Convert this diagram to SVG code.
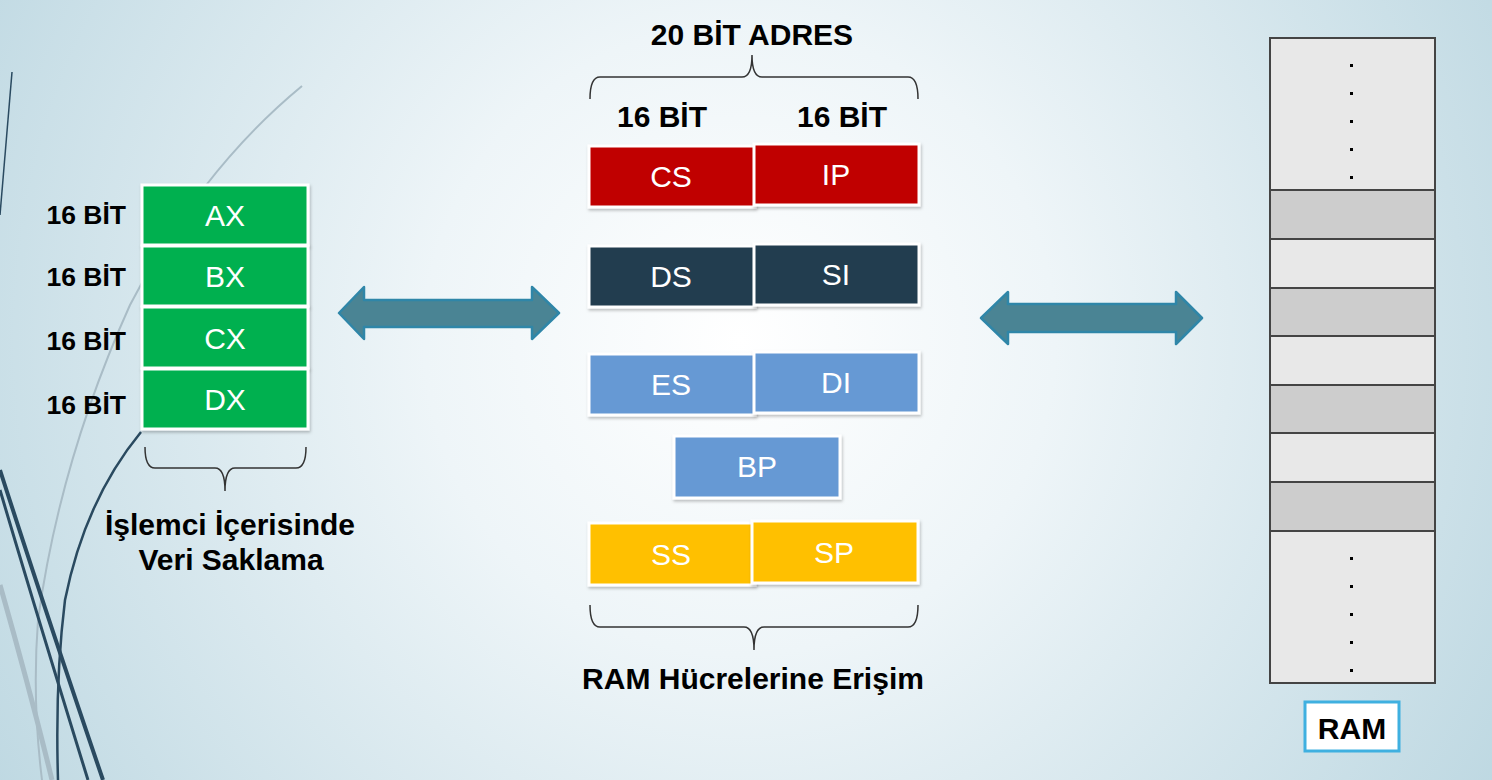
<svg xmlns="http://www.w3.org/2000/svg" width="1492" height="780" viewBox="0 0 1492 780">
<defs>
<radialGradient id="bg" cx="740" cy="340" r="900" gradientUnits="userSpaceOnUse">
<stop offset="0" stop-color="#ffffff"/>
<stop offset="0.35" stop-color="#eef5f8"/>
<stop offset="1" stop-color="#bcd7e1"/>
</radialGradient>
<filter id="sh" x="-10%" y="-10%" width="130%" height="140%">
<feDropShadow dx="1" dy="2" stdDeviation="1.5" flood-color="#000" flood-opacity="0.25"/>
</filter>
<style>
.reg rect{stroke:#fff;stroke-width:3;filter:url(#sh)}
.rt{font-family:"Liberation Sans",Arial,sans-serif;font-size:30px;fill:#fff;text-anchor:middle}
.lb{font-family:"Liberation Sans",Arial,sans-serif;font-weight:bold;fill:#000}
.brace{fill:none;stroke:#333;stroke-width:1.5}
.arrow{fill:#4a8494;stroke:#2f86a8;stroke-width:2.5;stroke-linejoin:round}
.ram rect{stroke:#444;stroke-width:2}
.dot{fill:#000}
</style>
</defs>
<rect x="0" y="0" width="1492" height="780" fill="url(#bg)"/>
<g id="decor" fill="none">
<path d="M12,72 Q6,140 0,215" stroke="#2a4a60" stroke-width="1.5"/>
<path d="M302,86 Q200,170 130,305 Q60,460 38,620 Q32,700 42,780" stroke="#a9bcc6" stroke-width="2"/>
<path d="M0,585 Q30,690 52,780" stroke="#a9bcc6" stroke-width="5"/>
<path d="M0,470 Q45,610 103,780" stroke="#2a4a60" stroke-width="4"/>
<path d="M0,490 Q40,625 88,780" stroke="#2a4a60" stroke-width="3"/>
<path d="M141,432 Q85,500 65,600 Q55,680 58,780" stroke="#2a4a60" stroke-width="2.5"/>
</g>
<g id="green-registers" class="reg">
<g id="AX"><rect x="142" y="185" width="166" height="60" fill="#00b050"/><text class="rt" x="225" y="226">AX</text></g>
<g id="BX"><rect x="142" y="246" width="166" height="60" fill="#00b050"/><text class="rt" x="225" y="287">BX</text></g>
<g id="CX"><rect x="142" y="307" width="166" height="61" fill="#00b050"/><text class="rt" x="225" y="349">CX</text></g>
<g id="DX"><rect x="142" y="369" width="166" height="60" fill="#00b050"/><text class="rt" x="225" y="410">DX</text></g>
</g>
<g id="green-labels" class="lb" font-size="26.5" text-anchor="end">
<text x="126" y="224">16 BİT</text>
<text x="126" y="286">16 BİT</text>
<text x="126" y="350">16 BİT</text>
<text x="126" y="414">16 BİT</text>
</g>
<g id="brace-left"><path class="brace" d="M145,447 Q145,468 155,468 L215,468 Q225,468 225,491 Q225,468 235,468 L296,468 Q306,468 306,447"/></g>
<g id="label-left" class="lb" font-size="30" text-anchor="middle">
<text x="230" y="535">İşlemci İçerisinde</text>
<text x="231" y="570">Veri Saklama</text>
</g>
<g id="title" class="lb" font-size="30" text-anchor="middle"><text x="752" y="45">20 BİT ADRES</text></g>
<g id="brace-top"><path class="brace" d="M590,99 Q590,77 600,77 L742,77 Q752,77 752,55 Q752,77 762,77 L908,77 Q918,77 918,99"/></g>
<g id="bit-labels" class="lb" font-size="30" text-anchor="middle">
<text x="662" y="127">16 BİT</text>
<text x="842" y="127">16 BİT</text>
</g>
<g id="segment-registers" class="reg">
<g id="CS"><rect x="589" y="146" width="166" height="61" fill="#c00000"/><text class="rt" x="671" y="187">CS</text></g>
<g id="IP"><rect x="754" y="144" width="165" height="61" fill="#c00000"/><text class="rt" x="836" y="185">IP</text></g>
<g id="DS"><rect x="589" y="246" width="166" height="61" fill="#233d4f"/><text class="rt" x="671" y="287">DS</text></g>
<g id="SI"><rect x="754" y="244" width="165" height="61" fill="#233d4f"/><text class="rt" x="836" y="285">SI</text></g>
<g id="ES"><rect x="589" y="354" width="166" height="61" fill="#6699d4"/><text class="rt" x="671" y="395">ES</text></g>
<g id="DI"><rect x="754" y="352" width="165" height="61" fill="#6699d4"/><text class="rt" x="836" y="393">DI</text></g>
<g id="BP"><rect x="674" y="436" width="166" height="62" fill="#6699d4"/><text class="rt" x="757" y="477">BP</text></g>
<g id="SS"><rect x="589" y="523" width="166" height="62" fill="#ffc000"/><text class="rt" x="671" y="565">SS</text></g>
<g id="SP"><rect x="752" y="521" width="166" height="62" fill="#ffc000"/><text class="rt" x="834" y="563">SP</text></g>
</g>
<g id="brace-bottom"><path class="brace" d="M590,605 Q590,627 600,627 L744,627 Q754,627 754,650 Q754,627 764,627 L908,627 Q918,627 918,605"/></g>
<g id="label-bottom" class="lb" font-size="30" text-anchor="middle"><text x="753" y="689">RAM Hücrelerine Erişim</text></g>
<g id="connectors">
<path class="arrow" d="M339,313 L364,287 L364,300 L532,300 L532,287 L559,313 L532,339 L532,327 L364,327 L364,339 Z"/>
<path class="arrow" d="M981,318 L1008,292 L1008,304 L1176,304 L1176,292 L1202,318 L1176,344 L1176,332 L1008,332 L1008,344 Z"/>
</g>
<g id="RAM-memory" class="ram">
<rect x="1270" y="38" width="165" height="152" fill="#e8e8e8"/>
<rect x="1270" y="190" width="165" height="49" fill="#cdcdcd"/>
<rect x="1270" y="239" width="165" height="49" fill="#e8e8e8"/>
<rect x="1270" y="288" width="165" height="48" fill="#cdcdcd"/>
<rect x="1270" y="336" width="165" height="49" fill="#e8e8e8"/>
<rect x="1270" y="385" width="165" height="48" fill="#cdcdcd"/>
<rect x="1270" y="433" width="165" height="49" fill="#e8e8e8"/>
<rect x="1270" y="482" width="165" height="49" fill="#cdcdcd"/>
<rect x="1270" y="531" width="165" height="152" fill="#e8e8e8"/>
</g>
<g id="RAM-dots" class="dot">
<rect x="1350" y="64" width="3" height="3"/>
<rect x="1350" y="92" width="3" height="3"/>
<rect x="1350" y="120" width="3" height="3"/>
<rect x="1350" y="148" width="3" height="3"/>
<rect x="1350" y="176" width="3" height="3"/>
<rect x="1350" y="557" width="3" height="3"/>
<rect x="1350" y="585" width="3" height="3"/>
<rect x="1350" y="613" width="3" height="3"/>
<rect x="1350" y="641" width="3" height="3"/>
<rect x="1350" y="669" width="3" height="3"/>
</g>
<g id="RAM-label">
<rect x="1305" y="702" width="94" height="49" fill="#fff" stroke="#3fb0e0" stroke-width="3"/>
<text class="lb" x="1352" y="739" font-size="30" text-anchor="middle">RAM</text>
</g>
</svg>
